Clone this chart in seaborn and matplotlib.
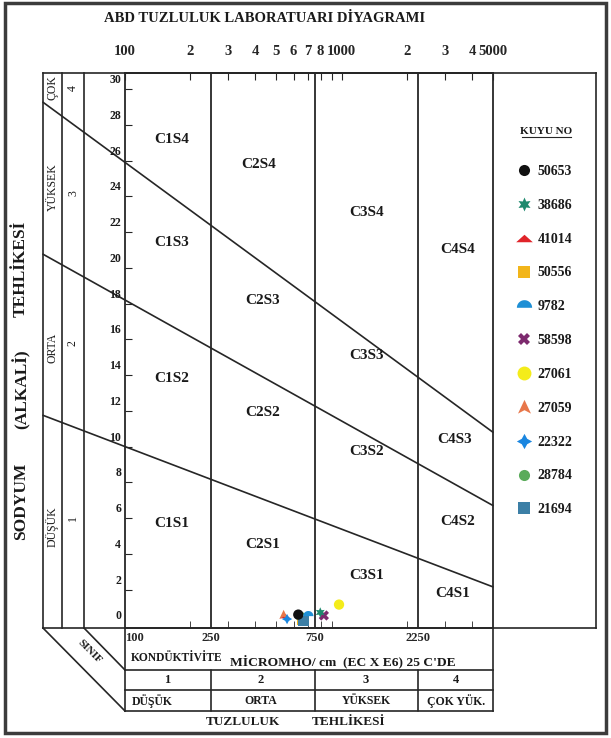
import numpy as np
import pandas as pd
import matplotlib
matplotlib.use('Agg')
import matplotlib.pyplot as plt
import seaborn as sns
from matplotlib.lines import Line2D
from matplotlib.patches import Rectangle
from matplotlib.ticker import FixedLocator, NullFormatter, NullLocator
from matplotlib.transforms import ScaledTranslation, blended_transform_factory

# ---- well samples ----
wells = ['50653', '38686', '41014', '50556', '9782', '58598',
         '27061', '27059', '22322', '28784', '21694']
ec_vals = [631, 797, 548, 658, 702, 828, 973, 540, 560, 650, 668]
sar_vals = [0.6, 0.72, 0.52, 0.3, 0.6, 0.55, 1.16, 0.58, 0.35, 0.46, 0.24]
well_colors = ['#111111', '#1e8a6e', '#e0242a', '#f2b51a', '#1e8fd5', '#7d2a6e',
               '#f4ec1a', '#e8774a', '#1a86e0', '#5aab5a', '#3c7fa6']
# plotting order (last one on top)
draw_order = ['41014', '28784', '50556', '21694', '27059', '22322',
              '50653', '9782', '58598', '38686', '27061']

# ---- class boundaries (USSL diagram) ----
bound_ec = [100, 5000]
s12_sar = [10.0, 2.15]
s23_sar = [18.2, 6.7]
s34_sar = [25.9, 10.8]
c_bounds = [250, 750, 2250]

zone_names = ['C1S4', 'C2S4', 'C3S4', 'C4S4', 'C1S3', 'C2S3', 'C3S3', 'C4S3',
              'C1S2', 'C2S2', 'C3S2', 'C4S2', 'C1S1', 'C2S1', 'C3S1', 'C4S1']
zone_ec = [164, 416, 1306, 3420, 165, 433, 1306, 3330,
           165, 433, 1306, 3420, 165, 433, 1306, 3250]
zone_sar = [27.2, 25.8, 23.1, 21.0, 21.4, 18.2, 15.1, 10.4,
            13.8, 11.9, 9.7, 5.8, 5.7, 4.5, 2.8, 1.8]

sar_ticks = list(range(0, 31, 2))
top_ticks = [100, 200, 300, 400, 500, 600, 700, 800, 900, 1000, 2000, 3000, 4000, 5000]
top_labels = ['100', '2', '3', '4', '5', '6', '7', '8', '', '1000', '2', '3', '4', '5000']
bottom_ticks = [100, 250, 750, 2250]
minor_ticks = [200, 300, 400, 500, 600, 700, 800, 900, 2000, 3000, 4000]

# marker shapes
dome = [(np.cos(t), np.sin(t) - 0.3) for t in np.linspace(0, np.pi, 20)]
wide_tri = [(-1, -0.45), (1, -0.45), (0, 0.45)]
arrow_tri = [(0, 1), (0.85, -0.8), (0, -0.35), (-0.85, -0.8)]
well_markers = ['o', (6, 1, 0), wide_tri, 's', dome, 'X',
                'o', arrow_tri, (4, 1, 0), 'o', 's']
legend_ms = [8, 10, 12, 8, 11, 9, 10, 11, 11, 8, 8]

W, H = 611, 738
INK = '#262626'
sns.set_style('white')
plt.rcParams['font.family'] = ['Liberation Serif', 'DejaVu Serif']
plt.rcParams['font.weight'] = 'bold'
plt.rcParams['text.color'] = '#1a1a1a'

fig = plt.figure(figsize=(W / 100, H / 100), dpi=100)

# overlay in pixel coordinates for the frame / table
ov = fig.add_axes([0, 0, 1, 1])
ov.set_xlim(0, W); ov.set_ylim(H, 0); ov.axis('off')


def seg(x0, y0, x1, y1, lw=1.2):
    ov.plot([x0, x1], [y0, y1], color=INK, lw=lw, solid_capstyle='projecting')


ov.add_patch(Rectangle((5, 3), 601, 730, fill=False, lw=2.5, ec='#3c3c3c'))
ov.text(265, 18, 'ABD TUZLULUK LABORATUARI DİYAGRAMI', ha='center', va='center', fontsize=10.5)

# main box and left columns
seg(43, 73, 596, 73); seg(43, 628, 596, 628)
seg(43, 73, 43, 628); seg(596, 73, 596, 628)
seg(62, 73, 62, 628); seg(84, 73, 84, 628)
for txt, y in [('ÇOK', 88), ('YÜKSEK', 187), ('ORTA', 348), ('DÜŞÜK', 527)]:
    ov.text(52.5, y, txt, rotation=90, ha='center', va='center', fontsize=8.5, weight='normal')
for txt, y in [('4', 88), ('3', 193), ('2', 343), ('1', 518)]:
    ov.text(73, y, txt, rotation=90, ha='center', va='center', fontsize=8.5, weight='normal')
for txt, y in [('SODYUM', 501), ('(ALKALİ)', 389), ('TEHLİKESİ', 269)]:
    ov.text(21, y, txt, rotation=90, ha='center', va='center', fontsize=12.5)

# bottom "SINIF" wedge and table
seg(43, 628, 125, 711); seg(84, 628, 125, 670)
ov.text(90, 652, 'SINIF', rotation=-45, ha='center', va='center', fontsize=8)
for y in [670, 690, 711]:
    seg(125, y, 493, y)
seg(125, 628, 125, 711); seg(493, 628, 493, 711)
ov.text(131, 658, 'KONDÜKTİVİTE', ha='left', va='center', fontsize=8.3)
ov.text(230, 662, "MİCROMHO/ cm  (EC X E6) 25 C'DE", ha='left', va='center', fontsize=9.7)
for txt, x in [('1', 167), ('2', 261), ('3', 366), ('4', 456)]:
    ov.text(x, 680, txt, ha='center', va='center', fontsize=9)
for txt, x in [('DÜŞÜK', 152), ('ORTA', 261), ('YÜKSEK', 366), ('ÇOK YÜK.', 456)]:
    ov.text(x, 701, txt, ha='center', va='center', fontsize=8.5)
ov.text(243, 722, 'TUZLULUK', ha='center', va='center', fontsize=9.5)
ov.text(349, 722, 'TEHLİKESİ', ha='center', va='center', fontsize=9.5)

# legend panel title
ov.text(546, 131, 'KUYU NO', ha='center', va='center', fontsize=8)
seg(522, 137, 571, 137, lw=0.8)

# ---- main diagram ----
ax = fig.add_axes([125 / W, 1 - 628 / H, 368 / W, 555 / H])
ax.set_facecolor('none')

df = pd.DataFrame({'well': wells, 'ec': ec_vals, 'sar': sar_vals})
df['z'] = df['well'].map({w: i for i, w in enumerate(draw_order)})
df = df.sort_values('z')
sns.scatterplot(data=df, x='ec', y='sar', hue='well', style='well',
                hue_order=wells, style_order=wells,
                palette=dict(zip(wells, well_colors)),
                markers=dict(zip(wells, well_markers)),
                s=55, linewidth=0, legend=False, ax=ax, zorder=5)

ax.set_xscale('log')
ax.set_xlim(100, 5000)
ax.set_ylim(-0.15, 30.9)
ax.set_xlabel(''); ax.set_ylabel('')
for sp in ax.spines.values():
    sp.set_color(INK); sp.set_linewidth(1.3)

for c in c_bounds:
    ax.axvline(c, color=INK, lw=1.3)
tbl = blended_transform_factory(ax.transData, ov.transData)
for c in c_bounds:
    ax.plot([c, c], [670, 711], color=INK, lw=1.2, transform=tbl, clip_on=False)

# boundary lines run from the box's left edge to 5000
ec_left = ax.transData.inverted().transform(fig.transFigure.transform((43 / W, 0.5)))[0]
for sar in [s12_sar, s23_sar, s34_sar]:
    coef = np.polyfit(np.log10(bound_ec), sar, 1)
    xs = np.array([ec_left, bound_ec[1]])
    ax.plot(xs, np.polyval(coef, np.log10(xs)), color=INK, lw=1.2, clip_on=False)

for name, x, y in zip(zone_names, zone_ec, zone_sar):
    ax.text(x, y, name, ha='center', va='center', fontsize=11)

# y ticks (labels sit slightly above their ticks, as in the original)
ax.set_yticks(sar_ticks[1:])
ax.set_yticklabels([])
ax.tick_params(axis='y', direction='in', length=5, left=True, right=False, color=INK)
ytr = blended_transform_factory(ax.transAxes, ax.transData) + \
    ScaledTranslation(0, 0.09, fig.dpi_scale_trans)
for v in sar_ticks:
    ax.text(-4 / 368, v, str(v), transform=ytr, ha='right', va='center', fontsize=8.5)

# bottom x ticks
ax.set_xticks(bottom_ticks)
ax.set_xticklabels([str(t) for t in bottom_ticks])
ax.xaxis.set_minor_locator(FixedLocator(minor_ticks))
ax.xaxis.set_minor_formatter(NullFormatter())
ax.tick_params(axis='x', which='major', length=0, pad=3, labelsize=9)
ax.tick_params(axis='x', which='minor', direction='in', length=5, bottom=True,
               top=False, color=INK)
ax.get_xticklabels()[0].set_ha('left')

# top x ticks
sec = ax.secondary_xaxis('top')
sec.set_xticks(top_ticks, labels=top_labels)
sec.xaxis.set_minor_locator(NullLocator())
sec.tick_params(direction='in', length=5, pad=11, labelsize=10.5, color=INK)
sec.spines['top'].set_color(INK); sec.spines['top'].set_linewidth(1.3)

# legend
handles = [Line2D([], [], ls='none', marker=m, color=c, markersize=ms, markeredgewidth=0)
           for m, c, ms in zip(well_markers, well_colors, legend_ms)]
ax.legend(handles, wells, loc='upper left', bbox_to_anchor=(517 / W, 1 - 165 / H),
          bbox_transform=fig.transFigure, frameon=False, fontsize=10,
          handlelength=1.0, handletextpad=0.5, labelspacing=1.5,
          borderpad=0, borderaxespad=0)

fig.savefig('out.png', dpi=100)
